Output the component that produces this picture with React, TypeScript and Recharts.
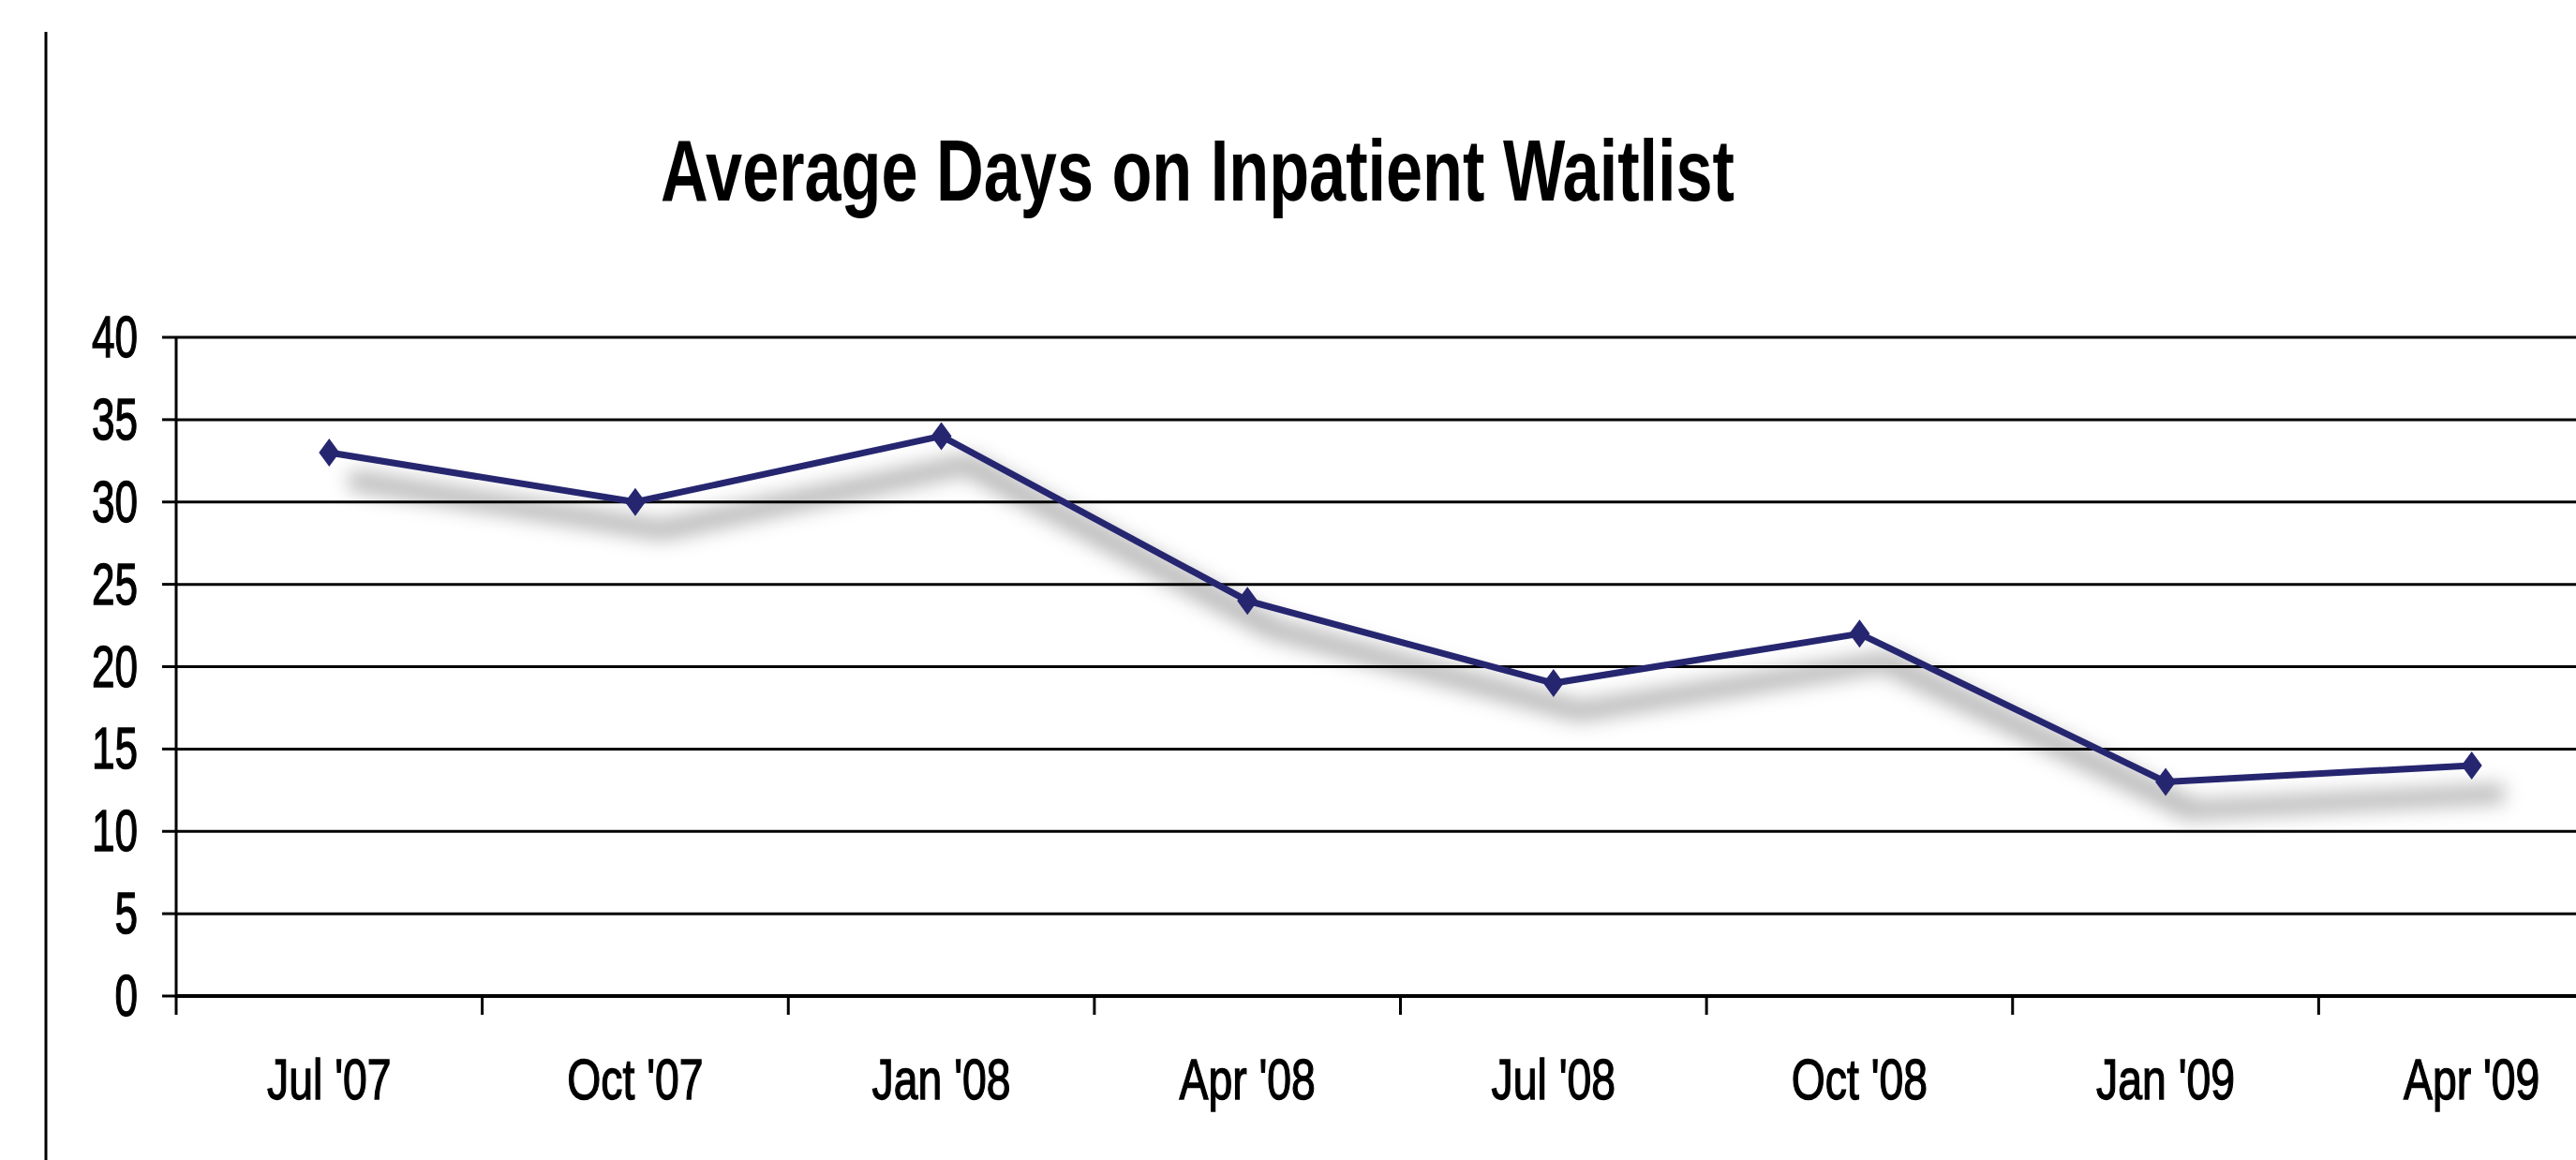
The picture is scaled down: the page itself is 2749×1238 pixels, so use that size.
import { CartesianGrid, Line, LineChart, XAxis, YAxis } from "recharts";

const months = ["Jul '07", "Oct '07", "Jan '08", "Apr '08", "Jul '08", "Oct '08", "Jan '09", "Apr '09"];
const avgDays = [33, 30, 34, 24, 19, 22, 13, 14];
const yTicks = [0, 5, 10, 15, 20, 25, 30, 35, 40];

const data = months.map((m, i) => ({ month: m, days: avgDays[i] }));

const CHART_W = 2810;
const CHART_H = 1238;
const MARGIN = { top: 360, right: 9, bottom: 0, left: 0 };
const Y_AXIS_W = 188;
const X_AXIS_H = 175;
const PLOT_W = CHART_W - MARGIN.left - MARGIN.right - Y_AXIS_W;
const BAND = PLOT_W / months.length;

const FONT = "'Liberation Sans', Arial, sans-serif";
const NAVY = "#262670";

function YTick({ x, y, payload }: any) {
  return (
    <g transform={`translate(${x},${y}) scale(0.7,1)`}>
      <text x={0} y={21} textAnchor="end" fontFamily={FONT} fontSize={63} fill="#000" stroke="#000" strokeWidth={1.4}>
        {payload.value}
      </text>
    </g>
  );
}

function XTick({ x, y, payload }: any) {
  const bx = x - BAND / 2;
  return (
    <g>
      <line x1={bx} y1={y} x2={bx} y2={y + 20} stroke="#000" strokeWidth={3} />
      <g transform={`translate(${x},${y + 110}) scale(0.76,1)`}>
        <text x={0} y={0} textAnchor="middle" fontFamily={FONT} fontSize={61} fill="#000" stroke="#000" strokeWidth={1.4}>
          {payload.value}
        </text>
      </g>
    </g>
  );
}

function Diamond({ cx, cy }: any) {
  if (cx == null || cy == null) return null;
  return (
    <polygon
      points={`${cx},${cy - 15} ${cx + 11},${cy} ${cx},${cy + 15} ${cx - 11},${cy}`}
      fill={NAVY}
    />
  );
}

export default function App() {
  return (
    <div
      style={{
        position: "fixed",
        left: 0,
        top: 0,
        width: 2749,
        height: 1238,
        overflow: "hidden",
        background: "#fff",
      }}
    >
      <style>{`.recharts-line { filter: url(#lineShadow); }`}</style>
      <svg
        width={2749}
        height={1238}
        style={{ position: "absolute", left: 0, top: 0, pointerEvents: "none" }}
      >
        <defs>
          <filter id="lineShadow" x="-5%" y="-30%" width="115%" height="180%">
            <feMorphology in="SourceAlpha" operator="dilate" radius="7" result="d" />
            <feGaussianBlur in="d" stdDeviation="10" result="b" />
            <feOffset in="b" dx="28" dy="30" result="o" />
            <feFlood floodColor="#000" floodOpacity="0.26" />
            <feComposite in2="o" operator="in" result="s" />
            <feMerge>
              <feMergeNode in="s" />
              <feMergeNode in="SourceGraphic" />
            </feMerge>
          </filter>
        </defs>
      </svg>
      <div style={{ position: "absolute", left: 0, top: 0 }}>
        <LineChart width={CHART_W} height={CHART_H} data={data} margin={MARGIN}>
          <CartesianGrid vertical={false} stroke="#000" strokeWidth={3} />
          <XAxis
            dataKey="month"
            height={X_AXIS_H}
            padding={{ left: BAND / 2, right: BAND / 2 }}
            axisLine={{ stroke: "#000", strokeWidth: 4 }}
            tickLine={false}
            tickSize={0}
            tickMargin={0}
            tick={<XTick />}
            interval={0}
          />
          <YAxis
            width={Y_AXIS_W}
            domain={[0, 40]}
            ticks={yTicks}
            interval={0}
            axisLine={{ stroke: "#000", strokeWidth: 3 }}
            tickLine={{ stroke: "#000", strokeWidth: 3 }}
            tickSize={15}
            tickMargin={26}
            tick={<YTick />}
          />
          <Line
            type="linear"
            dataKey="days"
            stroke={NAVY}
            strokeWidth={7}
            dot={<Diamond />}
            activeDot={false}
            isAnimationActive={false}
          />
        </LineChart>
      </div>
      <svg
        width={2749}
        height={1238}
        style={{ position: "absolute", left: 0, top: 0, pointerEvents: "none" }}
      >
        <line x1={49} y1={34} x2={49} y2={1238} stroke="#000" strokeWidth={3} />
        <text
          x={705}
          y={214}
          textLength={1146}
          lengthAdjust="spacingAndGlyphs"
          fontFamily={FONT}
          fontWeight="bold"
          fontSize={92}
          fill="#000"
        >
          Average Days on Inpatient Waitlist
        </text>
      </svg>
    </div>
  );
}
